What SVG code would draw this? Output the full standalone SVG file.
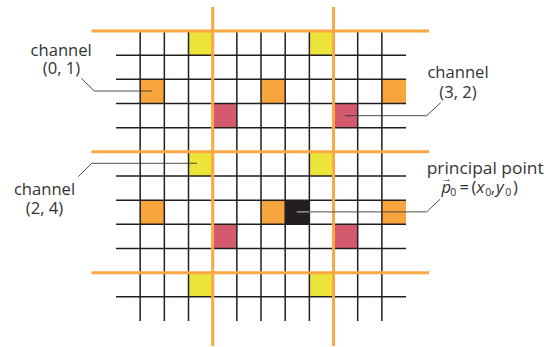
<svg xmlns="http://www.w3.org/2000/svg" width="544" height="347" viewBox="0 0 544 347">
<style>
.y{fill:#ECE43A}
.o{fill:#F9A53E}
.p{fill:#D45A6E}
.k{fill:#231F20}
.grid{stroke:#231F20;stroke-width:1.5;fill:none}
.band{stroke:#FAA843;stroke-width:3;fill:none}
.lead{stroke:#3a3a3a;stroke-width:0.9;fill:none}
.t{font-family:"Open Sans",sans-serif;font-size:16.6px;fill:#333}
.m{text-anchor:middle}
.s{font-size:10.5px}
.i{font-style:italic}
</style>
<rect width="544" height="347" fill="#fff"/>
<g id="cells">
<rect class="y" x="188.51" y="31" width="24.17" height="24.17"/>
<rect class="y" x="309.36" y="31" width="24.17" height="24.17"/>
<rect class="y" x="188.51" y="151.85" width="24.17" height="24.17"/>
<rect class="y" x="309.36" y="151.85" width="24.17" height="24.17"/>
<rect class="y" x="188.51" y="272.7" width="24.17" height="24.17"/>
<rect class="y" x="309.36" y="272.7" width="24.17" height="24.17"/>
<rect class="o" x="140.17" y="79.34" width="24.17" height="24.17"/>
<rect class="o" x="261.02" y="79.34" width="24.17" height="24.17"/>
<rect class="o" x="381.87" y="79.34" width="24.17" height="24.17"/>
<rect class="o" x="140.17" y="200.19" width="24.17" height="24.17"/>
<rect class="o" x="261.02" y="200.19" width="24.17" height="24.17"/>
<rect class="o" x="381.87" y="200.19" width="24.17" height="24.17"/>
<rect class="p" x="212.68" y="103.51" width="24.17" height="24.17"/>
<rect class="p" x="333.53" y="103.51" width="24.17" height="24.17"/>
<rect class="p" x="212.68" y="224.36" width="24.17" height="24.17"/>
<rect class="p" x="333.53" y="224.36" width="24.17" height="24.17"/>
<rect id="principal-cell" class="k" x="285.19" y="200.19" width="24.17" height="24.17"/>
</g>
<g id="grid">
<path class="grid" d="M140.17,31V321M164.34,31V321M188.51,31V321M236.85,31V321M261.02,31V321M285.19,31V321M309.36,31V321M357.7,31V321M381.87,31V321"/>
<path class="grid" d="M116,55.17H406M116,79.34H406M116,103.51H406M116,127.68H406M116,176.02H406M116,200.19H406M116,224.36H406M116,248.53H406M116,296.87H406"/>
</g>
<g id="bands">
<path class="band" d="M91.5,31H429M91.5,151.85H429M91.5,272.7H429M212.68,7V346M333.53,7V346"/>
</g>
<g id="connectors">
<path class="lead" d="M81.5,78.5L94.3,91H152"/>
<path class="lead" d="M345,115.7H426.7L440.7,102.7"/>
<path class="lead" d="M197,163.3H91.7L78.3,176.7"/>
<path class="lead" d="M309.4,211.9H426.7L440,199.3"/>
<path d="M296.7,211.9H309.4" stroke="#ddd" stroke-width="0.9"/>
</g>
<g id="label-01">
<text class="t m" x="61.2" y="55.5">channel<tspan x="61.5" y="74">(0, 1)</tspan></text>
</g>
<g id="label-32">
<text class="t m" x="458" y="77.7">channel<tspan x="458" y="97.7">(3, 2)</tspan></text>
</g>
<g id="label-24">
<text class="t m" x="44.5" y="195">channel<tspan x="44.5" y="214">(2, 4)</tspan></text>
</g>
<g id="label-pp">
<text class="t" x="426.7" y="173.8"><tspan textLength="117" lengthAdjust="spacingAndGlyphs">principal point</tspan><tspan class="s" x="441.3" y="181.5">→</tspan><tspan class="i" x="441.5" y="192.7">p</tspan><tspan class="s" x="450.3" y="195.7">0</tspan><tspan x="459.5" y="192.7">=</tspan><tspan x="471.5" y="192.7">(</tspan><tspan class="i" x="476.5" y="192.7">x</tspan><tspan class="s" x="485.3" y="195.7">0</tspan><tspan x="490.8" y="192.7">,</tspan><tspan class="i" x="496" y="192.7">y</tspan><tspan class="s" x="505.3" y="195.7">0</tspan><tspan x="513" y="192.7">)</tspan></text>
</g>
</svg>
